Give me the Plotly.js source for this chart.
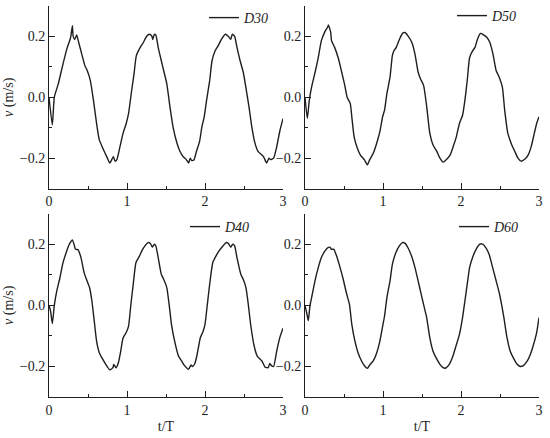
<!DOCTYPE html>
<html><head><meta charset="utf-8">
<script src="https://cdn.plot.ly/plotly-3.0.1.min.js"></script>
<style>html,body{margin:0;padding:0;background:#fff}</style>
</head><body><div id="chart" style="width:550px;height:438px"></div>
<script>
// t/T and v (m/s)
const t_D30 = [0, 0.043, 0.068, 0.12, 0.18, 0.23, 0.27, 0.28, 0.30, 0.31,
  0.33, 0.355, 0.375, 0.42, 0.46, 0.49, 0.53, 0.57, 0.61, 0.645,
  0.70, 0.74, 0.78, 0.825, 0.846, 0.87, 0.91, 0.95, 0.99, 1.02,
  1.06, 1.09, 1.12, 1.17, 1.21, 1.25, 1.29, 1.32, 1.33, 1.35,
  1.37, 1.40, 1.44, 1.47, 1.51, 1.55, 1.59, 1.64, 1.68, 1.72,
  1.76, 1.79, 1.81, 1.83, 1.86, 1.89, 1.93, 1.96, 1.99, 2.02,
  2.06, 2.09, 2.13, 2.17, 2.21, 2.26, 2.30, 2.33, 2.35, 2.38,
  2.41, 2.45, 2.49, 2.53, 2.57, 2.60, 2.64, 2.68, 2.75, 2.79,
  2.82, 2.84, 2.88, 2.92, 2.96, 3.0];
const v_D30 = [0, -0.091, 0.0, 0.045, 0.11, 0.16, 0.19, 0.2, 0.235, 0.2,
  0.19, 0.205, 0.186, 0.142, 0.104, 0.088, 0.055, -0.01, -0.086, -0.14,
  -0.173, -0.195, -0.216, -0.195, -0.21, -0.205, -0.162, -0.118, -0.086, -0.053,
  0.023, 0.077, 0.137, 0.164, 0.18, 0.2, 0.207, 0.2, 0.19, 0.207,
  0.204, 0.164, 0.12, 0.088, 0.045, -0.03, -0.097, -0.15, -0.178, -0.195,
  -0.205, -0.216, -0.2, -0.208, -0.205, -0.178, -0.146, -0.097, -0.064, -0.01,
  0.055, 0.12, 0.153, 0.17, 0.19, 0.207, 0.2, 0.19, 0.207, 0.2,
  0.164, 0.12, 0.083, 0.023, -0.042, -0.097, -0.15, -0.178, -0.195, -0.216,
  -0.2, -0.205, -0.2, -0.162, -0.11, -0.07];

const t_D50 = [0, 0.03, 0.055, 0.085, 0.13, 0.17, 0.21, 0.26, 0.29, 0.30,
  0.33, 0.34, 0.38, 0.43, 0.47, 0.51, 0.54, 0.58, 0.60, 0.63,
  0.67, 0.71, 0.76, 0.80, 0.83, 0.875, 0.92, 0.96, 0.995, 1.02,
  1.05, 1.09, 1.12, 1.14, 1.17, 1.21, 1.25, 1.28, 1.32, 1.37,
  1.41, 1.45, 1.48, 1.52, 1.56, 1.60, 1.64, 1.69, 1.73, 1.77,
  1.81, 1.86, 1.90, 1.94, 1.98, 2.02, 2.05, 2.08, 2.11, 2.15,
  2.18, 2.21, 2.25, 2.28, 2.33, 2.37, 2.41, 2.45, 2.49, 2.53,
  2.56, 2.60, 2.65, 2.69, 2.73, 2.77, 2.82, 2.86, 2.90, 2.94,
  2.97, 3.0];
const v_D50 = [0, -0.07, -0.01, 0.034, 0.083, 0.13, 0.186, 0.218, 0.23, 0.238,
  0.213, 0.186, 0.164, 0.126, 0.083, 0.039, 0.0, -0.02, -0.064, -0.13,
  -0.167, -0.19, -0.205, -0.222, -0.205, -0.184, -0.15, -0.113, -0.064, -0.042,
  0.012, 0.066, 0.137, 0.153, 0.164, 0.19, 0.21, 0.213, 0.202, 0.18,
  0.142, 0.083, 0.061, 0.039, -0.03, -0.118, -0.156, -0.178, -0.2, -0.213,
  -0.205, -0.19, -0.162, -0.13, -0.086, -0.059, -0.01, 0.055, 0.13, 0.153,
  0.164, 0.19, 0.21, 0.207, 0.197, 0.18, 0.142, 0.088, 0.066, 0.034,
  -0.042, -0.118, -0.156, -0.178, -0.2, -0.21, -0.203, -0.19, -0.162, -0.118,
  -0.086, -0.064];

const t_D40 = [0, 0.02, 0.043, 0.068, 0.10, 0.14, 0.18, 0.22, 0.25, 0.28,
  0.30, 0.32, 0.34, 0.37, 0.41, 0.45, 0.48, 0.52, 0.55, 0.58,
  0.61, 0.645, 0.69, 0.74, 0.78, 0.82, 0.83, 0.86, 0.89, 0.92,
  0.95, 0.99, 1.02, 1.05, 1.08, 1.115, 1.16, 1.19, 1.23, 1.27,
  1.30, 1.325, 1.35, 1.37, 1.40, 1.44, 1.47, 1.51, 1.54, 1.57,
  1.62, 1.66, 1.70, 1.74, 1.79, 1.82, 1.84, 1.87, 1.90, 1.94,
  1.97, 2.0, 2.03, 2.06, 2.10, 2.14, 2.18, 2.23, 2.27, 2.30,
  2.33, 2.355, 2.38, 2.41, 2.46, 2.49, 2.525, 2.555, 2.585, 2.63,
  2.67, 2.73, 2.77, 2.81, 2.83, 2.855, 2.88, 2.92, 2.96, 3.0];
const v_D40 = [0, -0.019, -0.06, 0.0, 0.047, 0.09, 0.14, 0.172, 0.194, 0.208,
  0.214, 0.2, 0.183, 0.182, 0.156, 0.107, 0.085, 0.058, 0.014, -0.051,
  -0.117, -0.155, -0.177, -0.198, -0.211, -0.204, -0.193, -0.204, -0.187, -0.149,
  -0.106, -0.089, -0.068, 0.003, 0.069, 0.14, 0.161, 0.178, 0.194, 0.205,
  0.202, 0.19, 0.2, 0.194, 0.156, 0.101, 0.085, 0.058, 0.003, -0.062,
  -0.128, -0.166, -0.182, -0.198, -0.209, -0.195, -0.2, -0.19, -0.16, -0.106,
  -0.089, -0.062, 0.003, 0.069, 0.14, 0.161, 0.178, 0.194, 0.205, 0.202,
  0.19, 0.2, 0.194, 0.156, 0.101, 0.085, 0.058, 0.003, -0.062, -0.133,
  -0.166, -0.182, -0.202, -0.204, -0.19, -0.198, -0.2, -0.149, -0.105, -0.075];

const t_D60 = [0, 0.03, 0.043, 0.064, 0.085, 0.128, 0.17, 0.21, 0.256, 0.29,
  0.32, 0.34, 0.37, 0.405, 0.45, 0.49, 0.53, 0.57, 0.60, 0.64,
  0.68, 0.725, 0.77, 0.80, 0.83, 0.875, 0.92, 0.96, 1.0, 1.02,
  1.05, 1.09, 1.12, 1.165, 1.21, 1.25, 1.28, 1.32, 1.366, 1.41,
  1.45, 1.49, 1.52, 1.56, 1.60, 1.64, 1.69, 1.73, 1.77, 1.805,
  1.85, 1.89, 1.93, 1.98, 2.02, 2.05, 2.08, 2.11, 2.155, 2.20,
  2.24, 2.275, 2.32, 2.36, 2.40, 2.445, 2.49, 2.52, 2.55, 2.59,
  2.63, 2.68, 2.72, 2.76, 2.80, 2.85, 2.89, 2.93, 2.97, 3.0];
const v_D60 = [0, -0.035, -0.05, 0.0, 0.025, 0.08, 0.123, 0.156, 0.178, 0.188,
  0.19, 0.183, 0.183, 0.161, 0.123, 0.085, 0.041, 0.003, -0.062, -0.117,
  -0.155, -0.182, -0.2, -0.206, -0.195, -0.182, -0.155, -0.117, -0.062, -0.035,
  0.025, 0.08, 0.134, 0.172, 0.194, 0.205, 0.203, 0.188, 0.161, 0.123,
  0.08, 0.036, 0.003, -0.04, -0.106, -0.149, -0.176, -0.193, -0.204, -0.205,
  -0.193, -0.171, -0.138, -0.095, -0.04, 0.014, 0.069, 0.123, 0.161, 0.186,
  0.2, 0.2, 0.188, 0.167, 0.129, 0.085, 0.041, 0.003, -0.04, -0.106,
  -0.149, -0.176, -0.193, -0.2, -0.197, -0.182, -0.16, -0.128, -0.089, -0.04];

const seriesNames = ['D30', 'D50', 'D40', 'D60'];
const yTitle = '<i>v</i> (m/s)';
const xTitle = 't/T';

const FONT = '"Liberation Serif", "Times New Roman", serif';
const INK = '#1e1e1e';

function mkTrace(t, v, i) {
  const s = i === 0 ? '' : String(i + 1);
  return {
    x: t, y: v, type: 'scatter', mode: 'lines',
    name: '<i>' + seriesNames[i] + '</i>',
    xaxis: 'x' + s, yaxis: 'y' + s,
    legend: i === 0 ? 'legend' : 'legend' + (i + 1),
    line: {color: INK, width: 1.4, shape: 'spline', smoothing: 0.5}
  };
}
const data = [
  mkTrace(t_D30, v_D30, 0),
  mkTrace(t_D50, v_D50, 1),
  mkTrace(t_D40, v_D40, 2),
  mkTrace(t_D60, v_D60, 3)
];

const common = {
  showgrid: false, zeroline: false, showline: true, linecolor: INK, linewidth: 1,
  ticks: 'inside', ticklen: 6, tickwidth: 1, tickcolor: INK,
  tickfont: {family: FONT, size: 14, color: INK}, fixedrange: true
};
function xAx(domain, anchor, withTitle) {
  return Object.assign({}, common, {
    domain: domain, anchor: anchor, range: [0, 3], tick0: 0, dtick: 1,
    minor: {ticks: 'inside', ticklen: 3, dtick: 0.5, tick0: 0, tickcolor: INK, tickwidth: 1},
    title: withTitle ? {text: xTitle, font: {family: FONT, size: 14, color: INK}, standoff: 4} : {text: ''}
  });
}
function yAx(domain, anchor, withTitle) {
  return Object.assign({}, common, {
    domain: domain, anchor: anchor, range: [-0.3, 0.3], tick0: 0, dtick: 0.2, tickformat: '.1f',
    minor: {ticks: 'inside', ticklen: 3, dtick: 0.1, tick0: 0, tickcolor: INK, tickwidth: 1},
    title: withTitle ? {text: yTitle, font: {family: FONT, size: 14, color: INK}, standoff: 2} : {text: ''}
  });
}
const XL = [49/550, 283/550], XR = [305/550, 539/550];
const YT = [1 - 188/438, 1 - 5/438], YB = [1 - 397/438, 1 - 213/438];

function leg(x, y) {
  return {x: x, y: y, xanchor: 'left', yanchor: 'middle', bgcolor: 'rgba(0,0,0,0)',
    borderwidth: 0, font: {family: FONT, size: 14, color: INK}};
}

const layout = {
  width: 550, height: 438,
  margin: {l: 0, r: 0, t: 0, b: 0},
  paper_bgcolor: '#fff', plot_bgcolor: '#fff',
  showlegend: true,
  xaxis: xAx(XL, 'y', false), yaxis: yAx(YT, 'x', true),
  xaxis2: xAx(XR, 'y2', false), yaxis2: yAx(YT, 'x2', false),
  xaxis3: xAx(XL, 'y3', true), yaxis3: yAx(YB, 'x3', true),
  xaxis4: xAx(XR, 'y4', true), yaxis4: yAx(YB, 'x4', false),
  legend: leg(204/550, 1 - 18/438),
  legend2: leg(452/550, 1 - 15/438),
  legend3: leg(185/550, 1 - 227/438),
  legend4: leg(454/550, 1 - 227/438)
};

Plotly.newPlot('chart', data, layout, {displayModeBar: false, staticPlot: true});
</script>
</body></html>
